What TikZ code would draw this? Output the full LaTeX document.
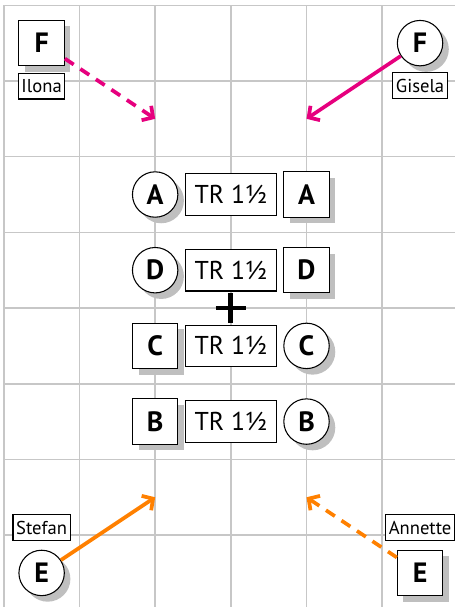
\documentclass[tikz,border=0pt]{standalone}
\usepackage{fontspec}
\setmainfont{PT Sans}
\usetikzlibrary{shadows,arrows.meta}
\definecolor{pinkline}{RGB}{230,0,126}
\definecolor{orangeline}{RGB}{255,128,0}

\begin{document}
\begin{tikzpicture}
\tikzset{shadowed/.style = {drop shadow={shadow xshift=0.08cm, shadow yshift=-0.08cm, fill=black!25, opacity=1}}}
\tikzset{rnd/.style = {shape=circle, draw, fill=white, minimum size=6mm, inner sep=0pt, font=\bfseries\fontsize{10.5}{11}\selectfont, shadowed}}
\tikzset{sq/.style = {shape=rectangle, draw, fill=white, minimum size=6mm, inner sep=0pt, font=\bfseries\fontsize{10.5}{11}\selectfont, shadowed}}
\tikzset{trbox/.style = {draw, fill=white, minimum width=12mm, minimum height=5.5mm, inner sep=0pt, font=\fontsize{9.7}{10}\selectfont}}
\tikzset{namebox/.style = {draw, fill=white, inner xsep=1.2pt, inner ysep=2.3pt, font=\fontsize{7}{8}\selectfont}}
\tikzset{move/.style = {line width=1.4pt, -{Straight Barb[length=3pt, width=6.5pt]}}}
\useasboundingbox (-3.05,-3.95) rectangle (2.95,4.07);
% Define the grid of the floor
\draw[black!22, line width=0.6pt] (-3,-4) grid (3,4);
\draw[line width=1.8pt] (-0.2,0) -- (0.2,0) (0,-0.2) -- (0,0.2);

% the four rows
\node[rnd] (lA) at (-1,1.5){A};
\node[trbox] (mA) at (0,1.5){TR 1½};
\node[sq] (rA) at (1,1.5){A};
\node[rnd] (lD) at (-1,0.5){D};
\node[trbox] (mD) at (0,0.5){TR 1½};
\node[sq] (rD) at (1,0.5){D};
\node[sq] (lC) at (-1,-0.5){C};
\node[trbox] (mC) at (0,-0.5){TR 1½};
\node[rnd] (rC) at (1,-0.5){C};
\node[sq] (lB) at (-1,-1.5){B};
\node[trbox] (mB) at (0,-1.5){TR 1½};
\node[rnd] (rB) at (1,-1.5){B};

% the dancers in the corners
\node[sq] (ilona) at (-2.5,3.5){F};
\node[namebox] (ilonaName) at (-2.5,2.93){Ilona};
\node[rnd] (gisela) at (2.5,3.5){F};
\node[namebox] (giselaName) at (2.5,2.94){Gisela};
\node[rnd] (stefan) at (-2.5,-3.5){E};
\node[namebox] (stefanName) at (-2.5,-2.9){Stefan};
\node[sq] (annette) at (2.5,-3.5){E};
\node[namebox] (annetteName) at (2.5,-2.9){Annette};
\coordinate (ilonaEnd) at (-1,2.5);
\coordinate (giselaEnd) at (1,2.5);
\coordinate (stefanEnd) at (-1,-2.5);
\coordinate (annetteEnd) at (1,-2.5);

% Draw the moves
\draw[move, pinkline, dash pattern=on 4pt off 3pt] (ilona) -- (ilonaEnd);
\draw[move, pinkline] (gisela) -- (giselaEnd);
\draw[move, orangeline] (stefan) -- (stefanEnd);
\draw[move, orangeline, dash pattern=on 4pt off 3pt] (annette) -- (annetteEnd);
\end{tikzpicture}
\end{document}
